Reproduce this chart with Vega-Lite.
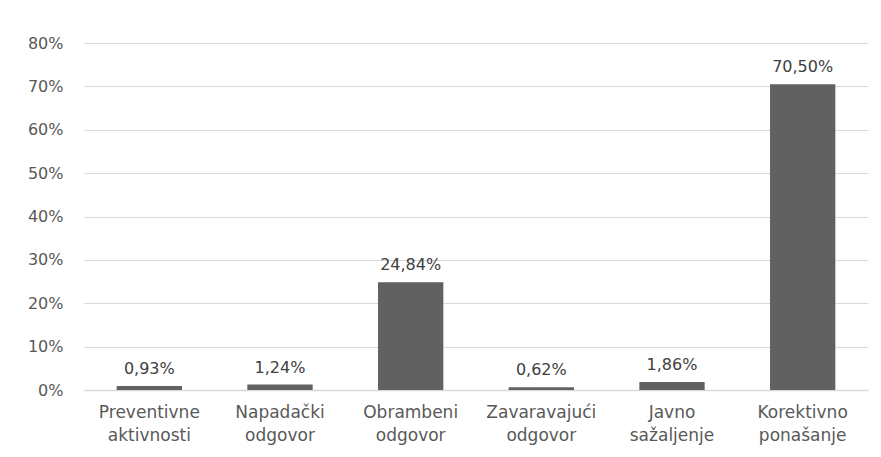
{
  "$schema": "https://vega.github.io/schema/vega-lite/v6.json",
  "width": 784,
  "height": 347,
  "autosize": {"type": "none"},
  "padding": {"left": 84, "top": 43, "right": 13, "bottom": 67},
  "background": "white",
  "config": {
    "locale": {"number": {"decimal": ",", "thousands": ".", "grouping": [3], "currency": ["", " €"]}},
    "view": {"stroke": null},
    "font": "DejaVu Sans"
  },
  "data": {
    "values": [
      {"kategorija": "Preventivne aktivnosti", "udio": 0.0093},
      {"kategorija": "Napadački odgovor", "udio": 0.0124},
      {"kategorija": "Obrambeni odgovor", "udio": 0.2484},
      {"kategorija": "Zavaravajući odgovor", "udio": 0.0062},
      {"kategorija": "Javno sažaljenje", "udio": 0.0186},
      {"kategorija": "Korektivno ponašanje", "udio": 0.705}
    ]
  },
  "encoding": {
    "x": {
      "field": "kategorija", "type": "nominal", "sort": null,
      "scale": {"paddingInner": 0.5, "paddingOuter": 0.25},
      "axis": {
        "title": null, "labelAngle": 0, "ticks": false,
        "domainColor": "#d9d9d9", "domainWidth": 1.5,
        "labelExpr": "split(datum.label, ' ')",
        "labelFontSize": 17, "labelColor": "#595959", "labelLineHeight": 23,
        "labelPadding": 14, "labelBaseline": "top"
      }
    },
    "y": {
      "field": "udio", "type": "quantitative",
      "scale": {"domain": [0, 0.8]},
      "axis": {
        "title": null, "format": ".0%", "values": [0, 0.1, 0.2, 0.3, 0.4, 0.5, 0.6, 0.7, 0.8],
        "domain": false, "ticks": false, "gridColor": "#d9d9d9", "gridWidth": 1,
        "labelFontSize": 16, "labelColor": "#595959", "labelPadding": 21
      }
    }
  },
  "layer": [
    {"mark": {"type": "bar", "color": "#616161"}},
    {
      "mark": {"type": "text", "baseline": "bottom", "dy": -9, "fontSize": 16, "color": "#404040"},
      "encoding": {"text": {"field": "udio", "type": "quantitative", "format": ".2%"}}
    }
  ]
}
